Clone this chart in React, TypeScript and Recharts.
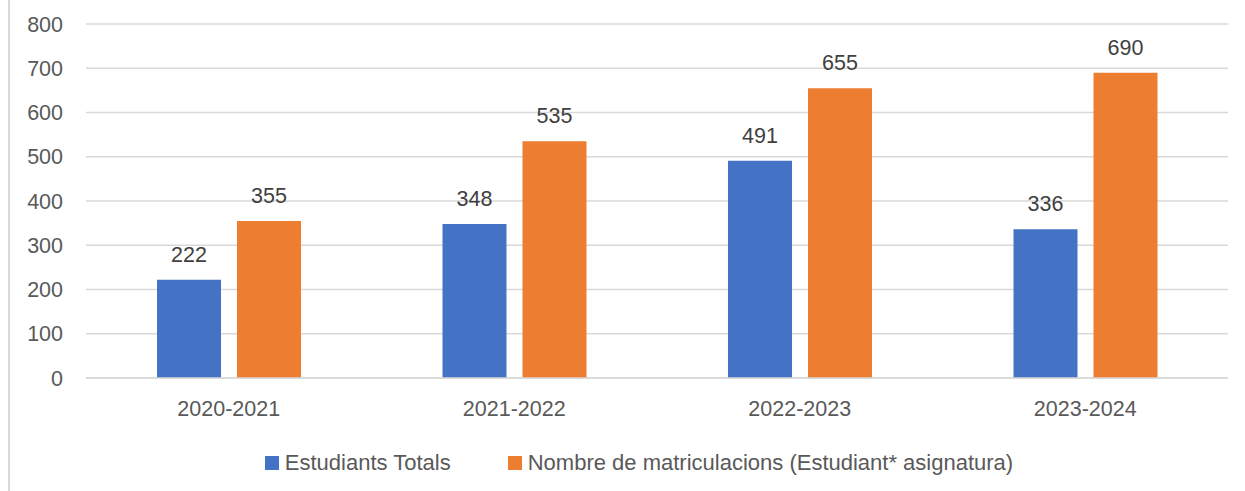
import { BarChart, Bar, XAxis, YAxis, CartesianGrid, Legend, LabelList } from 'recharts';

const years = ['2020-2021', '2021-2022', '2022-2023', '2023-2024'];
const totalStudents = [222, 348, 491, 336];
const enrolments = [355, 535, 655, 690];
const yTicks = [0, 100, 200, 300, 400, 500, 600, 700, 800];

const seriesNames = {
  total: 'Estudiants Totals',
  enrol: 'Nombre de matriculacions (Estudiant* asignatura)',
};

const BLUE = '#4472C4';
const ORANGE = '#ED7D31';
const GRID = '#d9d9d9';
const FONT = '"Liberation Sans", Arial, sans-serif';

const data = years.map((year, i) => ({
  year,
  total: totalStudents[i],
  enrol: enrolments[i],
}));

function LegendContent() {
  const items = [
    { label: seriesNames.total, color: BLUE },
    { label: seriesNames.enrol, color: ORANGE },
  ];
  return (
    <div
      style={{
        display: 'flex',
        justifyContent: 'center',
        paddingLeft: 50,
        paddingTop: 2,
        fontFamily: FONT,
        fontSize: 22,
        color: '#595959',
      }}
    >
      {items.map((it, i) => (
        <div
          key={it.label}
          style={{ display: 'flex', alignItems: 'center', marginLeft: i === 0 ? 0 : 57 }}
        >
          <span
            style={{ width: 14, height: 14, background: it.color, marginRight: 6, display: 'inline-block' }}
          />
          <span>{it.label}</span>
        </div>
      ))}
    </div>
  );
}

export default function App() {
  return (
    <div
      style={{
        position: 'absolute',
        left: 0,
        top: 0,
        width: 1245,
        height: 491,
        background: '#fff',
      }}
    >
      <div
        style={{
          position: 'absolute',
          left: 8,
          top: 0,
          width: 2,
          height: 491,
          background: GRID,
        }}
      />
      <BarChart
        width={1245}
        height={491}
        data={data}
        margin={{ top: 24, right: 17, bottom: 0, left: 0 }}
        barSize={64}
        barGap={16}
      >
        <CartesianGrid vertical={false} stroke={GRID} strokeWidth={1.5} />
        <XAxis
          dataKey="year"
          height={70}
          axisLine={{ stroke: GRID, strokeWidth: 1.5 }}
          tickLine={false}
          tickSize={0}
          tickMargin={23}
          tick={{ fontSize: 21.5, fill: '#595959', fontFamily: FONT }}
        />
        <YAxis
          width={86}
          domain={[0, 800]}
          ticks={yTicks}
          axisLine={false}
          tickLine={false}
          tickSize={0}
          tickMargin={23}
          tick={{ fontSize: 21.5, fill: '#595959', fontFamily: FONT }}
        />
        <Legend verticalAlign="bottom" height={43} content={<LegendContent />} />
        <Bar dataKey="total" name={seriesNames.total} fill={BLUE} isAnimationActive={false}>
          <LabelList
            dataKey="total"
            position="top"
            offset={18}
            style={{ fontSize: 21.5, fill: '#404040', fontFamily: FONT }}
          />
        </Bar>
        <Bar dataKey="enrol" name={seriesNames.enrol} fill={ORANGE} isAnimationActive={false}>
          <LabelList
            dataKey="enrol"
            position="top"
            offset={18}
            style={{ fontSize: 21.5, fill: '#404040', fontFamily: FONT }}
          />
        </Bar>
      </BarChart>
    </div>
  );
}
